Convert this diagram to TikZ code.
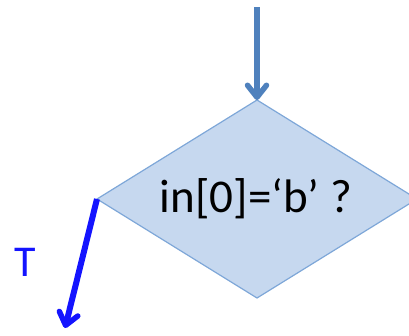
\documentclass[tikz,border=0pt]{standalone}
\usepackage{fontspec}
\setmainfont{Carlito}
\usetikzlibrary{arrows.meta}
\definecolor{arrowsteel}{HTML}{4F81BD}
\definecolor{dfill}{HTML}{C6D8EF}
\definecolor{dline}{HTML}{7EA7D8}
\definecolor{tblue}{HTML}{1414FF}
\tikzset{
  decision/.style={draw=dline, line width=1.2pt, fill=dfill, line join=miter},
  dtext/.style={inner sep=0pt, font=\fontsize{47}{54}\selectfont},
  flowarrow/.style={line width=6pt, -{Straight Barb[round,length=12pt,width=19pt,line width=5.5pt]}},
}
\begin{document}
\begin{tikzpicture}[x=1pt,y=-1pt]
\useasboundingbox (0,0) rectangle (409,335);
\clip (0,0) rectangle (409,335);
\coordinate (dn) at (257,100);
\coordinate (dw) at (97,199);
\coordinate (ds) at (257,298);
\coordinate (de) at (417,199);
\draw[decision] (dn) -- (de) -- (ds) -- (dw) -- cycle;
\node[dtext] (d) at (256,199) {in[0]=‘b’ ?};
\coordinate (top) at (257,7);
\coordinate (out) at (65,328);
\draw[flowarrow, arrowsteel] (top) -- (dn);
\draw[flowarrow, tblue, line cap=butt] (dw) -- (out);
\node[text=tblue, font=\fontsize{44}{50}\selectfont] (t) at (25,262) {T};
\end{tikzpicture}
\end{document}
